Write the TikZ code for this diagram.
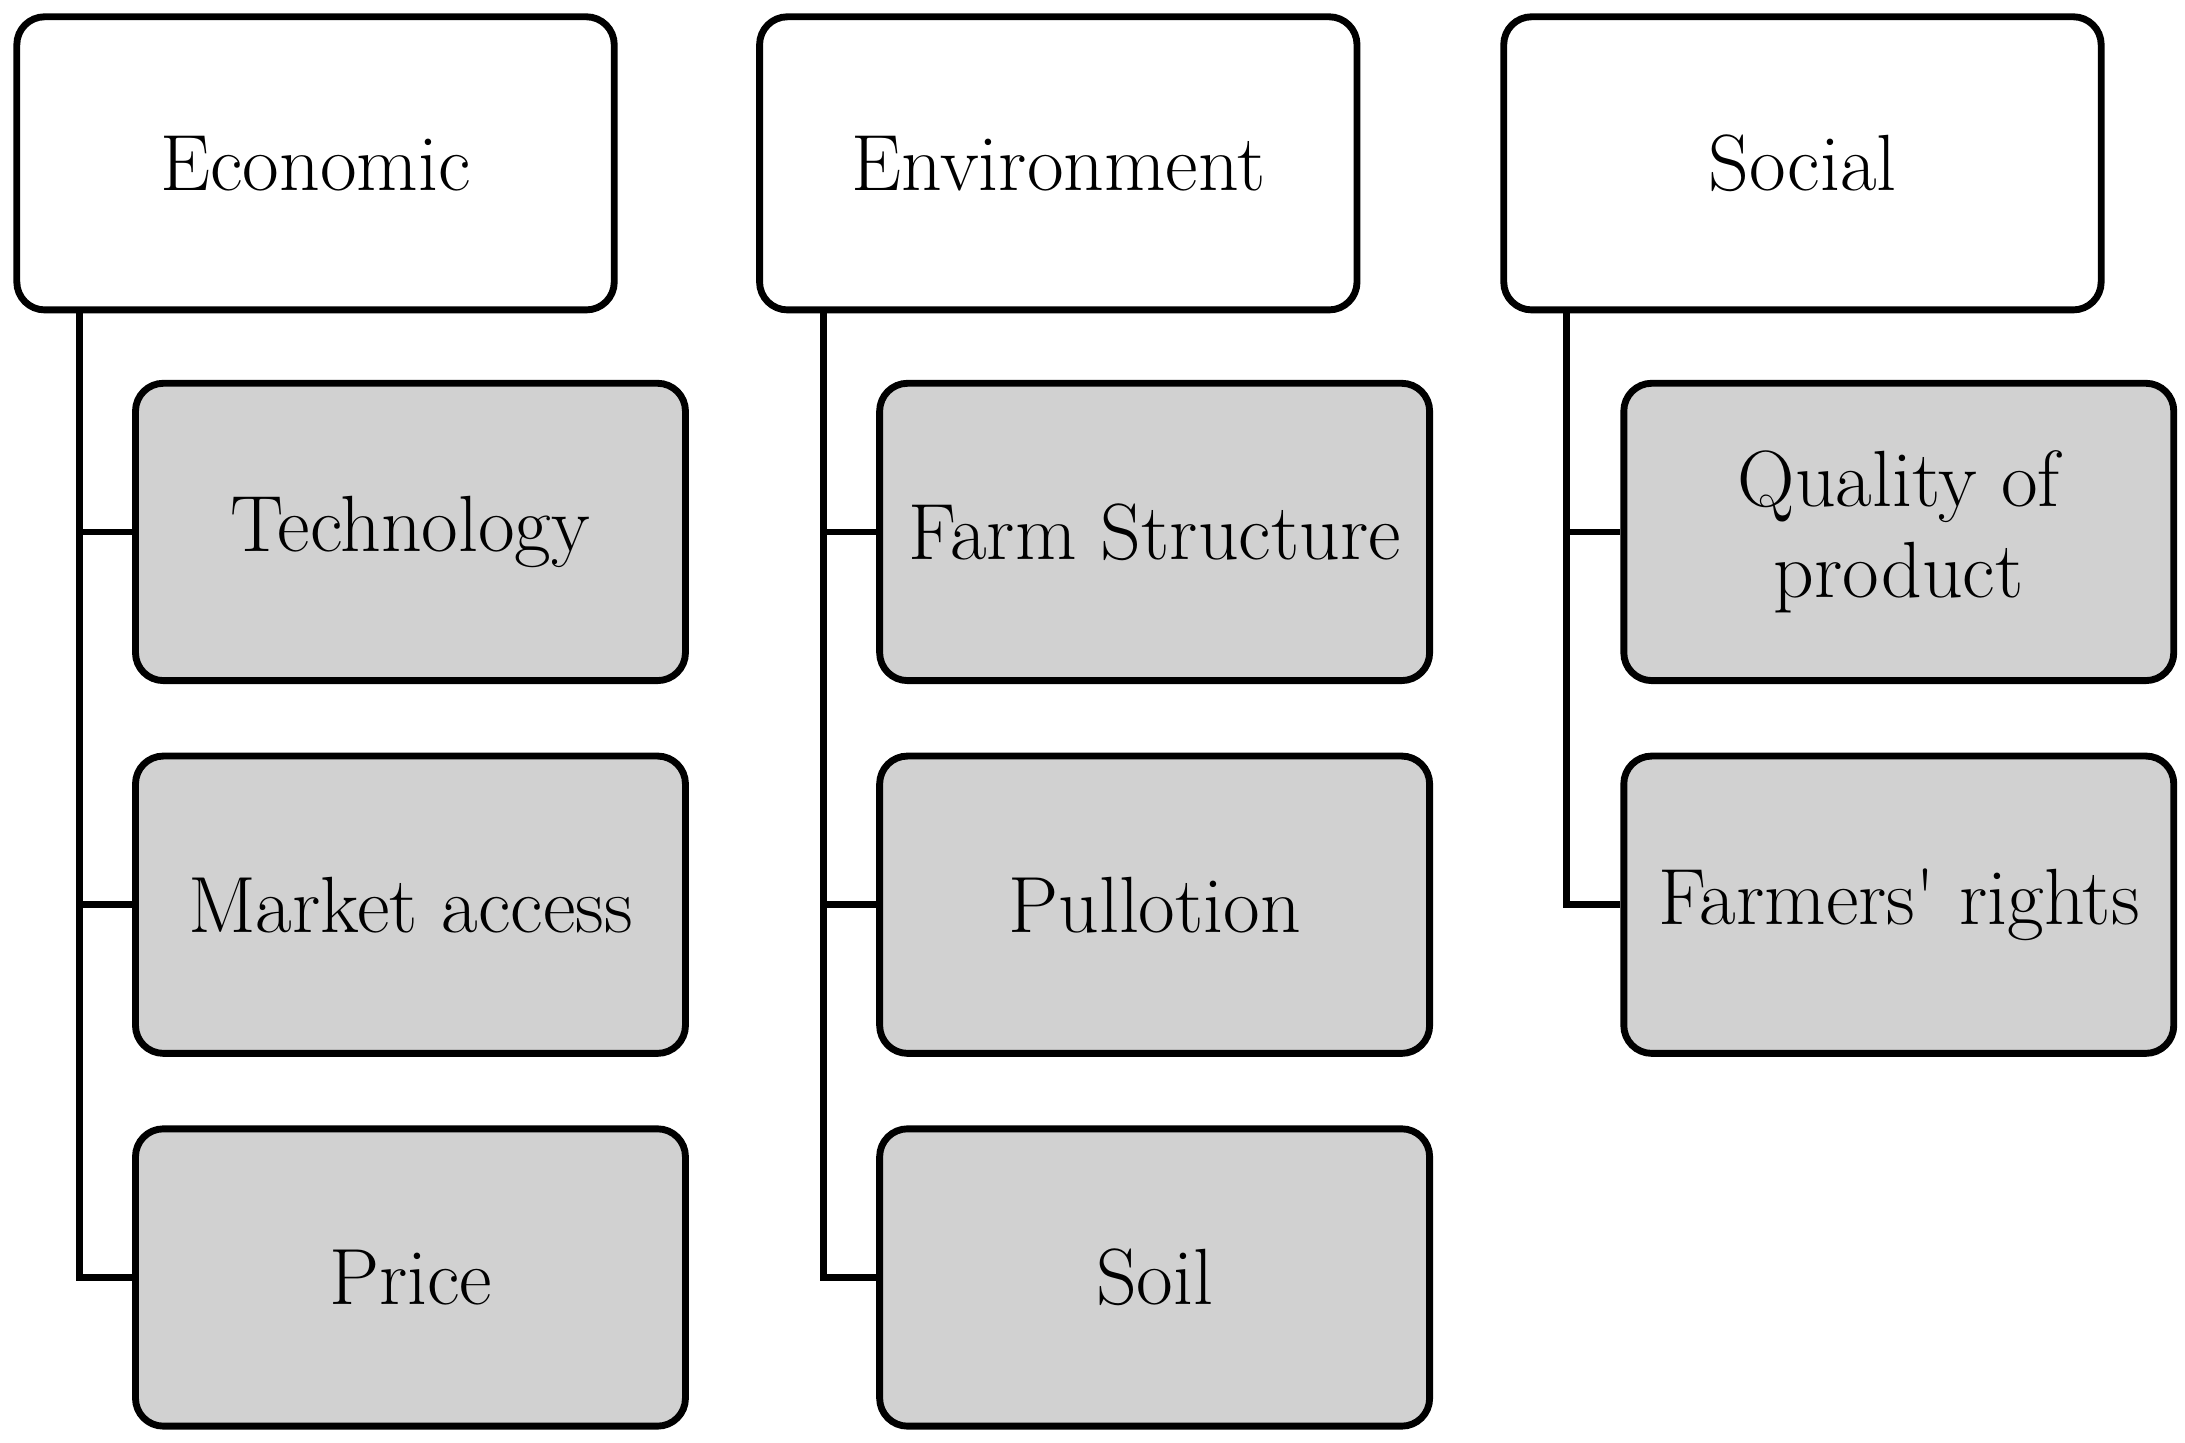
\documentclass[tikz,border=0pt]{standalone}
\begin{document}
\begin{tikzpicture}[x=0.02cm,y=-0.02cm,
  top/.style={draw=black,line width=2.8pt,rounded corners=0.4cm,fill=white,minimum width=8.56cm,minimum height=4.2cm,align=center,font=\fontsize{32.5}{37}\selectfont},
  sub/.style={draw=black,line width=2.8pt,rounded corners=0.4cm,fill=black!18,minimum width=7.88cm,minimum height=4.26cm,align=center,font=\fontsize{32.5}{37}\selectfont},
  conn/.style={line width=2.8pt}]
\useasboundingbox (0,0) rectangle (1565,1033);
\foreach \n/\x/\t in {a/226/Economic,b/758/Environment,c/1291/Social}{
  \node[top] (\n) at (\x,117) {\t};}
\node[sub] (a1) at (294,381) {Technology};
\node[sub] (a2) at (294,648) {Market access};
\node[sub] (a3) at (294,915) {Price};
\node[sub] (b1) at (827,381) {Farm Structure};
\node[sub] (b2) at (827,648) {Pullotion};
\node[sub] (b3) at (827,915) {Soil};
\node[sub] (c1) at (1360,381) {Quality of\\product};
\node[sub] (c2) at (1360,648) {Farmers\textquotesingle{} rights};
\coordinate (ta) at (57,0); \coordinate (tb) at (590,0); \coordinate (tc) at (1122,0);
\draw[conn] (ta|-a.south) |- (a3.west);
\draw[conn] (ta|-a1.west) -- (a1.west);
\draw[conn] (ta|-a2.west) -- (a2.west);
\draw[conn] (tb|-b.south) |- (b3.west);
\draw[conn] (tb|-b1.west) -- (b1.west);
\draw[conn] (tb|-b2.west) -- (b2.west);
\draw[conn] (tc|-c.south) |- (c2.west);
\draw[conn] (tc|-c1.west) -- (c1.west);
\end{tikzpicture}
\end{document}
